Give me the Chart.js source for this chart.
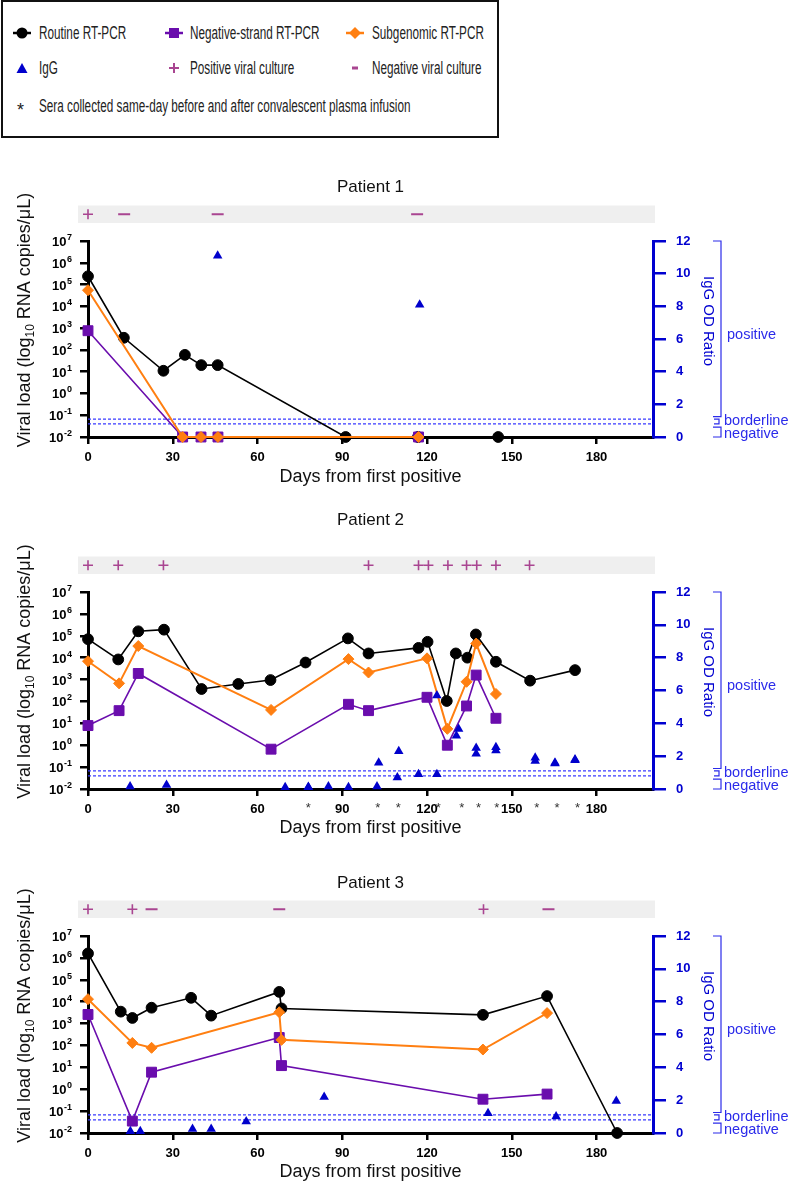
<!DOCTYPE html>
<html>
<head>
<meta charset="utf-8">
<script src="https://cdn.jsdelivr.net/npm/chart.js@4.4.0/dist/chart.umd.min.js"></script>
<style>
  body { margin: 0; background: #fff; }
  #page { position: relative; width: 796px; height: 1184px; overflow: hidden; font-family: 'Liberation Sans', Arial, sans-serif; }
  #legendBox { position: absolute; left: 1px; top: 0; width: 494px; height: 134px; border: 2px solid #111; }
  .lg { position: absolute; font-size: 17.5px; color: #222; line-height: 20px; white-space: nowrap; transform: scaleX(0.67); transform-origin: 0 50%; }
  .mk { position: absolute; }
  canvas { position: absolute; left: 0; }
</style>
</head>
<body>
<div id="page">
  <div id="legendBox"></div>

  <svg class="mk" style="left:12px;top:25px" width="20" height="16"><line x1="1" y1="8" x2="19" y2="8" stroke="#000" stroke-width="2.5"/><circle cx="10" cy="8" r="5.5" fill="#000"/></svg>
  <div class="lg" style="left:39px;top:23px">Routine RT-PCR</div>
  <svg class="mk" style="left:164px;top:25px" width="20" height="16"><line x1="1" y1="8" x2="19" y2="8" stroke="#6a0dad" stroke-width="2.5"/><rect x="5" y="3" width="10" height="10" fill="#6a0dad"/></svg>
  <div class="lg" style="left:190px;top:23px">Negative-strand RT-PCR</div>
  <svg class="mk" style="left:345px;top:25px" width="20" height="16"><line x1="1" y1="8" x2="19" y2="8" stroke="#ff7f11" stroke-width="2.5"/><polygon points="10,2 16,8 10,14 4,8" fill="#ff7f11"/></svg>
  <div class="lg" style="left:372px;top:23px">Subgenomic RT-PCR</div>

  <svg class="mk" style="left:12px;top:60px" width="20" height="16"><polygon points="10,3 15.5,13 4.5,13" fill="#0000cc"/></svg>
  <div class="lg" style="left:39px;top:58px">IgG</div>
  <svg class="mk" style="left:164px;top:60px" width="20" height="16"><line x1="10" y1="3" x2="10" y2="13" stroke="#a94591" stroke-width="2"/><line x1="5" y1="8" x2="15" y2="8" stroke="#a94591" stroke-width="2"/></svg>
  <div class="lg" style="left:190px;top:58px">Positive viral culture</div>
  <svg class="mk" style="left:345px;top:60px" width="20" height="16"><line x1="7" y1="8" x2="13" y2="8" stroke="#a94591" stroke-width="3"/></svg>
  <div class="lg" style="left:372px;top:58px">Negative viral culture</div>

  <div class="mk" style="left:17px;top:100px;font-size:18px;line-height:20px;color:#222">*</div>
  <div class="lg" style="left:39px;top:96px">Sera collected same-day before and after convalescent plasma infusion</div>

  <canvas id="chartP1" width="796" height="327" style="top:160px"></canvas>
  <canvas id="chartP2" width="796" height="339" style="top:500px"></canvas>
  <canvas id="chartP3" width="796" height="331" style="top:850px"></canvas>
</div>

<script>
// Ejes compartidos
const decadeExps = [-2, -1, 0, 1, 2, 3, 4, 5, 6, 7];
const dayTicks = [0, 30, 60, 90, 120, 150, 180];
const iggTicks = [0, 2, 4, 6, 8, 10, 12];
const iggBorderlineLow = 0.8;
const iggBorderlineHigh = 1.1;

// Paciente 1
const p1RoutineDays = [0, 12.7, 26.7, 34.3, 40.1, 45.9, 91.2, 116.8, 145.2];
const p1RoutineLoad = [2.4e5, 360, 11, 59, 20, 20, 0.01, 0.01, 0.01];
const p1NegDays = [0, 33.5, 40, 46, 117];
const p1NegLoad = [760, 0.01, 0.01, 0.01, 0.01];
const p1SubDays = [0, 33.5, 40, 46, 117];
const p1SubLoad = [5.5e4, 0.01, 0.01, 0.01, 0.01];
const p1IggDays = [45.9, 117.4];
const p1Igg = [11.1, 8.1];
const p1CultureDays = [0, 12.8, 45.9, 116.5];
const p1CultureSigns = ['+', '-', '-', '-'];
const p1SeraDays = [];

// Paciente 2
const p2RoutineDays = [0, 10.7, 17.8, 26.9, 40.2, 53.2, 64.6, 77, 92, 99.3, 117, 120.2, 127, 130.2, 134.3, 137.3, 144.4, 156.5, 172.4];
const p2RoutineLoad = [7e4, 8.3e3, 1.6e5, 1.9e5, 370, 630, 950, 6e3, 7.6e4, 1.56e4, 2.8e4, 5.3e4, 105, 1.56e4, 1e4, 1.15e5, 6.5e3, 890, 2.7e3];
const p2NegDays = [0, 11, 17.8, 64.8, 92.2, 99.3, 120, 127.2, 134, 137.4, 144.4];
const p2NegLoad = [7.9, 38, 1.9e3, 0.66, 74, 38, 155, 1.0, 62, 1.6e3, 17];
const p2SubDays = [0, 11, 17.8, 64.8, 92.2, 99.3, 120, 127.2, 134, 137.4, 144.4];
const p2SubLoad = [6.9e3, 670, 3.4e4, 41, 8.6e3, 2.1e3, 9.3e3, 5.6, 790, 4.4e4, 220];
const p2IggDays = [14.9, 27.8, 69.8, 78, 78, 85.1, 92.2, 102.3, 102.9, 109.5, 110, 117, 123.5, 123.5, 130.4, 131.2, 137.4, 137.4, 144.4, 144.4, 158.3, 158.3, 165.3, 165.3, 172.4, 172.4];
const p2Igg = [0.15, 0.25, 0.1, 0.1, 0.12, 0.15, 0.1, 0.15, 1.6, 0.7, 2.3, 0.9, 0.9, 5.7, 3.25, 3.65, 2.15, 2.5, 2.35, 2.55, 1.7, 1.9, 1.55, 1.6, 1.75, 1.8];
const p2CultureDays = [0, 10.7, 26.7, 99.3, 117, 120.5, 127.4, 134, 137.6, 144.4, 156.3];
const p2CultureSigns = ['+', '+', '+', '+', '+', '+', '+', '+', '+', '+', '+'];
const p2SeraDays = [78, 102.6, 109.8, 124, 132.3, 138.2, 144.7, 158.9, 166, 173.3];

// Paciente 3
const p3RoutineDays = [0, 11.6, 15.7, 22.5, 36.5, 43.6, 67.7, 68.5, 139.8, 162.5, 187.3];
const p3RoutineLoad = [1.6e6, 3.5e3, 1.8e3, 5.3e3, 1.5e4, 2.3e3, 2.8e4, 4.9e3, 2.5e3, 1.8e4, 0.01];
const p3NegDays = [0, 15.7, 22.5, 67.7, 68.5, 139.8, 162.5];
const p3NegLoad = [2.6e3, 0.035, 6, 230, 12, 0.35, 0.6];
const p3SubDays = [0, 15.7, 22.5, 67.7, 68.5, 139.8, 162.5];
const p3SubLoad = [1.3e4, 130, 78, 3.3e3, 180, 65, 3e3];
const p3IggDays = [15, 18.5, 37, 43.6, 56, 83.6, 141.6, 165.7, 187];
const p3Igg = [0.1, 0.1, 0.25, 0.25, 0.7, 2.2, 1.2, 1.0, 1.95];
const p3CultureDays = [0, 15.7, 22.5, 67.7, 140, 163];
const p3CultureSigns = ['+', '+', '-', '-', '+', '-'];
const p3SeraDays = [];

// Colores
const colRoutine = '#000000';
const colNeg = '#6a0dad';
const colSub = '#ff7f11';
const colIgg = '#0000cc';
const colAxisBlue = '#0000d0';
const colBracket = '#2b2bea';
const colCulture = '#a94591';
const fontFamily = "'Liberation Sans', Arial, Helvetica, sans-serif";

Chart.defaults.font.family = fontFamily;

function zip(xs, ys) {
    return xs.map((x, i) => ({ x: x, y: ys[i] }));
}

// Adornos: título, barra de cultivo, asteriscos, etiquetas 10^n, títulos de ejes y corchetes
const panelDecor = {
    id: 'panelDecor',
    afterDraw(chart, args, o) {
        const { ctx, chartArea: a, scales } = chart;
        const xs = scales.x, ys = scales.y, y2 = scales.y2;
        const cx = (a.left + a.right) / 2;
        ctx.save();

        // título
        ctx.fillStyle = '#111';
        ctx.font = '17px ' + fontFamily;
        ctx.textAlign = 'center';
        ctx.textBaseline = 'middle';
        ctx.fillText(o.title, cx, a.top - o.titleGap);

        // barra gris de cultivo
        ctx.fillStyle = '#efefef';
        ctx.fillRect(a.left - 10, a.top - 35.5, a.right - a.left + 12, 17.5);
        const by = a.top - 26.75;
        ctx.strokeStyle = colCulture;
        o.cultureDays.forEach((d, i) => {
            const px = xs.getPixelForValue(d);
            ctx.beginPath();
            if (o.cultureSigns[i] === '+') {
                ctx.lineWidth = 1.6;
                ctx.moveTo(px - 5, by); ctx.lineTo(px + 5, by);
                ctx.moveTo(px, by - 5); ctx.lineTo(px, by + 5);
            } else {
                ctx.lineWidth = 2;
                ctx.moveTo(px - 6, by); ctx.lineTo(px + 6, by);
            }
            ctx.stroke();
        });

        // asteriscos
        ctx.fillStyle = '#333';
        ctx.font = '13px ' + fontFamily;
        o.seraDays.forEach(d => ctx.fillText('*', xs.getPixelForValue(d), a.bottom + 19));

        // etiquetas del eje log con exponente
        ctx.fillStyle = '#000';
        ys.ticks.forEach(t => {
            const py = ys.getPixelForValue(t.value);
            const e = String(Math.round(Math.log10(t.value)));
            ctx.font = 'bold 9px ' + fontFamily;
            const we = ctx.measureText(e).width;
            const xr = a.left - 16;
            ctx.textBaseline = 'alphabetic';
            ctx.textAlign = 'left';
            ctx.fillText(e, xr - we, py - 1);
            ctx.font = 'bold 13px ' + fontFamily;
            ctx.textAlign = 'right';
            ctx.fillText('10', xr - we - 0.5, py + 5);
        });

        // título eje x
        ctx.fillStyle = '#111';
        ctx.font = '18px ' + fontFamily;
        ctx.textAlign = 'center';
        ctx.textBaseline = 'middle';
        ctx.fillText('Days from first positive', cx, a.bottom + o.xTitleGap);

        // título eje y izquierdo con subíndice
        const big = '18px ' + fontFamily, small = '12px ' + fontFamily;
        const t1 = 'Viral load (log', t2 = '10', t3 = ' RNA copies/μL)';
        ctx.font = big; const w1 = ctx.measureText(t1).width, w3 = ctx.measureText(t3).width;
        ctx.font = small; const w2 = ctx.measureText(t2).width;
        ctx.translate(24, (a.top + a.bottom) / 2 - 19);
        ctx.rotate(-Math.PI / 2);
        ctx.textAlign = 'left';
        ctx.textBaseline = 'alphabetic';
        let sx = -(w1 + w2 + w3) / 2;
        ctx.font = big; ctx.fillText(t1, sx, 6); sx += w1;
        ctx.font = small; ctx.fillText(t2, sx, 10); sx += w2;
        ctx.font = big; ctx.fillText(t3, sx, 6);
        ctx.setTransform(1, 0, 0, 1, 0, 0);

        // título eje derecho
        ctx.fillStyle = colAxisBlue;
        ctx.font = '15px ' + fontFamily;
        ctx.translate(708, a.top + 80);
        ctx.rotate(Math.PI / 2);
        ctx.textAlign = 'center';
        ctx.textBaseline = 'middle';
        ctx.fillText('IgG OD Ratio', 0, 0);
        ctx.setTransform(1, 0, 0, 1, 0, 0);

        // corchetes positivo / borderline / negativo
        const yv = v => y2.getPixelForValue(v);
        ctx.strokeStyle = colBracket;
        ctx.lineWidth = 1.2;
        const bracket = (x0, x1, ya, yb) => {
            ctx.beginPath();
            ctx.moveTo(x0, ya); ctx.lineTo(x1, ya); ctx.lineTo(x1, yb); ctx.lineTo(x0, yb);
            ctx.stroke();
        };
        bracket(713, 721, yv(12), yv(1.25));
        bracket(714, 719, yv(iggBorderlineHigh), yv(iggBorderlineLow));
        bracket(713, 721, yv(0.6), yv(0));
        ctx.fillStyle = colBracket;
        ctx.font = '14.5px ' + fontFamily;
        ctx.textAlign = 'left';
        ctx.textBaseline = 'middle';
        ctx.fillText('positive', 727, yv(6.25));
        ctx.fillText('borderline', 724, yv(1.0));
        ctx.fillText('negative', 724, yv(0.2));
        ctx.restore();
    }
};

function buildDatasets(p) {
    return [
        {
            label: 'IgG', data: zip(p.iggDays, p.igg), yAxisID: 'y2', showLine: false,
            pointStyle: 'triangle', pointRadius: 5.5, pointBackgroundColor: colIgg, pointBorderColor: colIgg,
            pointBorderWidth: 0, clip: false
        },
        {
            label: 'Subgenomic RT-PCR', data: zip(p.subDays, p.subLoad), yAxisID: 'y', showLine: true,
            borderColor: colSub, borderWidth: 2, pointStyle: 'rectRot', pointRadius: 5.5,
            pointBackgroundColor: colSub, pointBorderColor: colSub, pointBorderWidth: 1, clip: false
        },
        {
            label: 'Negative-strand RT-PCR', data: zip(p.negDays, p.negLoad), yAxisID: 'y', showLine: true,
            borderColor: colNeg, borderWidth: 1.6, pointStyle: 'rect', pointRadius: 7,
            pointBackgroundColor: colNeg, pointBorderColor: colNeg, pointBorderWidth: 1, clip: false
        },
        {
            label: 'Routine RT-PCR', data: zip(p.routineDays, p.routineLoad), yAxisID: 'y', showLine: true,
            borderColor: colRoutine, borderWidth: 1.6, pointStyle: 'circle', pointRadius: 5.4,
            pointBackgroundColor: colRoutine, pointBorderColor: colRoutine, pointBorderWidth: 1, clip: false
        },
        {
            label: 'borderline high', data: [{ x: 0, y: iggBorderlineHigh }, { x: 200, y: iggBorderlineHigh }],
            yAxisID: 'y2', showLine: true, borderColor: '#3a3aff', borderWidth: 1.2, borderDash: [3, 2], pointRadius: 0
        },
        {
            label: 'borderline low', data: [{ x: 0, y: iggBorderlineLow }, { x: 200, y: iggBorderlineLow }],
            yAxisID: 'y2', showLine: true, borderColor: '#3a3aff', borderWidth: 1.2, borderDash: [3, 2], pointRadius: 0
        }
    ];
}

function crearGrafico(canvasId, p) {
    return new Chart(document.getElementById(canvasId), {
        type: 'scatter',
        data: { datasets: buildDatasets(p) },
        options: {
            responsive: false,
            animation: false,
            devicePixelRatio: 1,
            layout: { padding: { top: p.padTop, right: 79, left: 0, bottom: 0 } },
            plugins: {
                legend: { display: false },
                tooltip: { enabled: false },
                panelDecor: p
            },
            scales: {
                x: {
                    type: 'linear', min: 0, max: 200,
                    afterBuildTicks: s => { s.ticks = dayTicks.map(v => ({ value: v })); },
                    afterFit: s => { s.height = p.bottomSpace; },
                    border: { color: '#000', width: 3 },
                    grid: { drawOnChartArea: false, tickLength: 7, color: '#000', lineWidth: 2.5 },
                    ticks: { color: '#000', font: { size: 13, weight: 'bold' }, padding: 6, maxRotation: 0, autoSkip: false }
                },
                y: {
                    type: 'logarithmic', position: 'left', min: 0.01, max: 1e7,
                    afterBuildTicks: s => { s.ticks = decadeExps.map(e => ({ value: Math.pow(10, e) })); },
                    afterFit: s => { s.width = 88; },
                    border: { color: '#000', width: 3 },
                    grid: { drawOnChartArea: false, tickLength: 8, color: '#000', lineWidth: 2.5 },
                    ticks: { display: false, autoSkip: false }
                },
                y2: {
                    type: 'linear', position: 'right', min: 0, max: 12,
                    afterBuildTicks: s => { s.ticks = iggTicks.map(v => ({ value: v })); },
                    afterFit: s => { s.width = 64; },
                    border: { color: colAxisBlue, width: 3 },
                    grid: { drawOnChartArea: false, tickLength: 13, color: colAxisBlue, lineWidth: 2.5 },
                    ticks: { color: colAxisBlue, font: { size: 13, weight: 'bold' }, padding: 10, autoSkip: false }
                }
            }
        },
        plugins: [panelDecor]
    });
}

const patients = [
    {
        canvas: 'chartP1', title: 'Patient 1', padTop: 81, bottomSpace: 50, titleGap: 54, xTitleGap: 40,
        routineDays: p1RoutineDays, routineLoad: p1RoutineLoad, negDays: p1NegDays, negLoad: p1NegLoad,
        subDays: p1SubDays, subLoad: p1SubLoad, iggDays: p1IggDays, igg: p1Igg,
        cultureDays: p1CultureDays, cultureSigns: p1CultureSigns, seraDays: p1SeraDays
    },
    {
        canvas: 'chartP2', title: 'Patient 2', padTop: 92, bottomSpace: 50, titleGap: 72, xTitleGap: 39,
        routineDays: p2RoutineDays, routineLoad: p2RoutineLoad, negDays: p2NegDays, negLoad: p2NegLoad,
        subDays: p2SubDays, subLoad: p2SubLoad, iggDays: p2IggDays, igg: p2Igg,
        cultureDays: p2CultureDays, cultureSigns: p2CultureSigns, seraDays: p2SeraDays
    },
    {
        canvas: 'chartP3', title: 'Patient 3', padTop: 86, bottomSpace: 48, titleGap: 53, xTitleGap: 39,
        routineDays: p3RoutineDays, routineLoad: p3RoutineLoad, negDays: p3NegDays, negLoad: p3NegLoad,
        subDays: p3SubDays, subLoad: p3SubLoad, iggDays: p3IggDays, igg: p3Igg,
        cultureDays: p3CultureDays, cultureSigns: p3CultureSigns, seraDays: p3SeraDays
    }
];

patients.forEach(p => crearGrafico(p.canvas, p));
</script>
</body>
</html>
